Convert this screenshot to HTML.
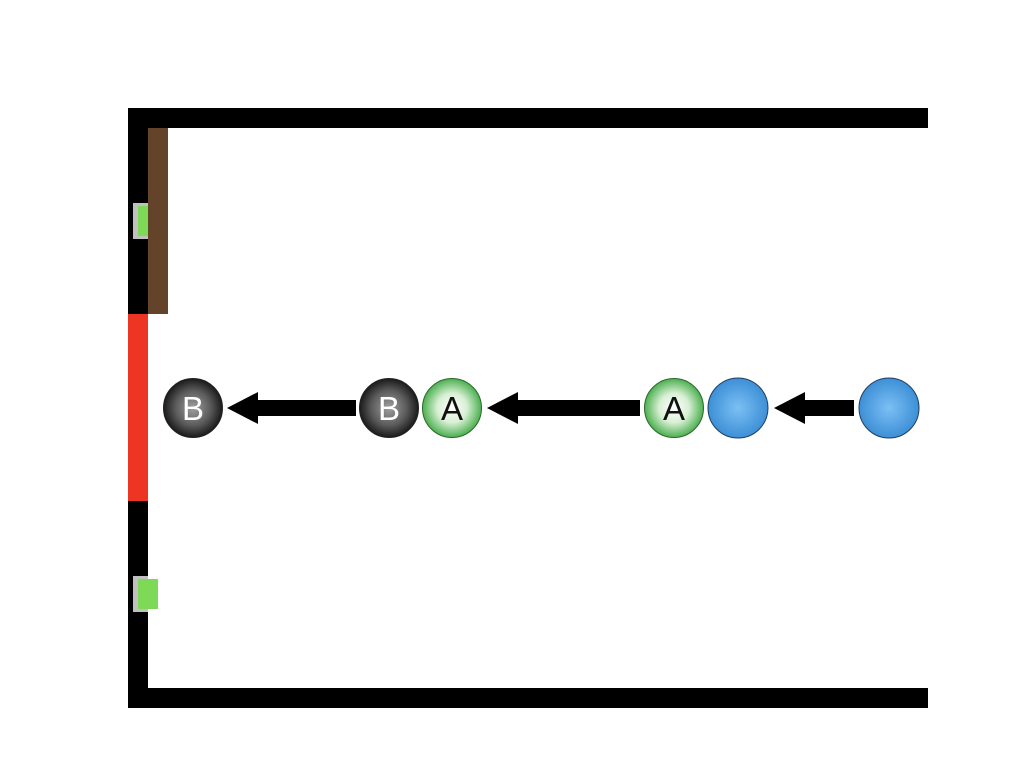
<!DOCTYPE html>
<html><head><meta charset="utf-8"><style>body{margin:0;background:#fff}svg{display:block}</style></head>
<body>
<svg width="1024" height="768" viewBox="0 0 1024 768" font-family="Liberation Sans, sans-serif">
<defs>
<radialGradient id="gB" cx="50%" cy="50%" r="50%"><stop offset="0" stop-color="#a0a0a0"/><stop offset="0.6" stop-color="#5a5a5a"/><stop offset="1" stop-color="#1a1a1a"/></radialGradient>
<radialGradient id="gA" cx="50%" cy="50%" r="50%"><stop offset="0" stop-color="#ffffff"/><stop offset="0.5" stop-color="#d8f0d4"/><stop offset="1" stop-color="#4caf50"/></radialGradient>
<radialGradient id="gC" cx="50%" cy="50%" r="50%"><stop offset="0" stop-color="#7cc0f5"/><stop offset="1" stop-color="#3d8fd6"/></radialGradient>
</defs>
<rect x="128" y="108" width="800" height="20" fill="#000"/>
<rect x="128" y="688" width="800" height="20" fill="#000"/>
<rect x="128" y="108" width="20" height="600" fill="#000"/>
<rect x="148" y="128" width="20" height="186" fill="#634329"/>
<rect x="128" y="314" width="20" height="187" fill="#ee3524"/>
<rect x="133" y="203" width="15" height="36" fill="#c0c0c0"/>
<rect x="138" y="206" width="10" height="30" fill="#7ed957"/>
<rect x="133" y="576" width="15" height="36" fill="#c0c0c0"/>
<rect x="138" y="579" width="20" height="30" fill="#7ed957"/>
<g><rect x="256" y="400" width="100" height="16" fill="#000"/><polygon points="227,408 258,392 258,424" fill="#000"/></g>
<g><rect x="517" y="400" width="123" height="16" fill="#000"/><polygon points="487,408 518,392 518,424" fill="#000"/></g>
<g><rect x="804" y="400" width="50" height="16" fill="#000"/><polygon points="774,408 805,392 805,424" fill="#000"/></g>
<g><circle cx="193" cy="408" r="29.5" fill="url(#gB)" stroke="#222" stroke-width="1"/><text x="193" y="420" font-size="33" fill="#fff" text-anchor="middle">B</text></g>
<g><circle cx="389" cy="408" r="29.5" fill="url(#gB)" stroke="#222" stroke-width="1"/><text x="389" y="420" font-size="33" fill="#fff" text-anchor="middle">B</text></g>
<g><circle cx="452" cy="408" r="29.5" fill="url(#gA)" stroke="#2a6a2a" stroke-width="1"/><text x="452" y="420" font-size="33" fill="#111" text-anchor="middle">A</text></g>
<g><circle cx="674" cy="408" r="29.5" fill="url(#gA)" stroke="#2a6a2a" stroke-width="1"/><text x="674" y="420" font-size="33" fill="#111" text-anchor="middle">A</text></g>
<circle cx="738" cy="408" r="30" fill="url(#gC)" stroke="#1f3f60" stroke-width="1"/>
<circle cx="889" cy="408" r="30" fill="url(#gC)" stroke="#1f3f60" stroke-width="1"/>
</svg>
</body></html>
